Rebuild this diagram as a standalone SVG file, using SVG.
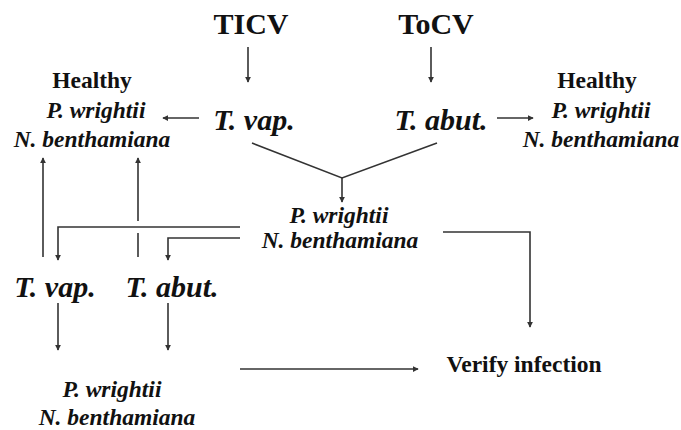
<svg xmlns="http://www.w3.org/2000/svg" width="681" height="430" viewBox="0 0 681 430">
  <style>
    text { font-family: "Liberation Serif", "Times New Roman", serif; fill: #111; text-anchor: middle; font-weight: bold; }
    .virus { font-size: 30px; }
    .head { font-size: 23.5px; }
    .host { font-size: 23.5px; font-style: italic; }
    .vec { font-size: 30px; font-style: italic; }
    .verify { font-size: 23.5px; }
    .conn line, .conn polyline { stroke: #333; stroke-width: 1.6; fill: none; }
  </style>
  <defs>
    <marker id="arrow" viewBox="0 0 8 8" refX="7" refY="4" markerWidth="6" markerHeight="6" markerUnits="userSpaceOnUse" orient="auto">
      <path d="M0,0 L8,4 L0,8 Z" fill="#333"/>
    </marker>
  </defs>
  <rect width="681" height="430" fill="#fff"/>

  <g id="ticv"><text class="virus" x="251" y="34">TICV</text></g>
  <g id="tocv"><text class="virus" x="436" y="34">ToCV</text></g>

  <g id="tvap-top"><text class="vec" x="254" y="130">T. vap.</text></g>
  <g id="tabut-top"><text class="vec" x="441" y="130">T. abut.</text></g>

  <g id="healthy-left">
    <text class="head" x="92" y="88">Healthy</text>
    <text class="host" x="96" y="118">P. wrightii</text>
    <text class="host" x="92" y="147">N. benthamiana</text>
  </g>
  <g id="healthy-right">
    <text class="head" x="597" y="88">Healthy</text>
    <text class="host" x="601" y="118">P. wrightii</text>
    <text class="host" x="601" y="147">N. benthamiana</text>
  </g>

  <g id="hosts-mid">
    <text class="host" x="339" y="223">P. wrightii</text>
    <text class="host" x="340" y="248">N. benthamiana</text>
  </g>

  <g id="tvap-bottom"><text class="vec" x="55" y="297">T. vap.</text></g>
  <g id="tabut-bottom"><text class="vec" x="172" y="297">T. abut.</text></g>

  <g id="hosts-bottom">
    <text class="host" x="112" y="397">P. wrightii</text>
    <text class="host" x="117" y="425">N. benthamiana</text>
  </g>

  <g id="verify"><text class="verify" x="524" y="372">Verify infection</text></g>

  <g class="conn" id="connectors">
    <line x1="248" y1="47" x2="248" y2="82" marker-end="url(#arrow)"/>
    <line x1="431" y1="47" x2="431" y2="82" marker-end="url(#arrow)"/>
    <line x1="199" y1="118" x2="163" y2="118" marker-end="url(#arrow)"/>
    <line x1="497" y1="118" x2="533" y2="118" marker-end="url(#arrow)"/>
    <polyline points="252,143 342,178 437,143"/>
    <line x1="342" y1="178" x2="342" y2="202" marker-end="url(#arrow)"/>
    <polyline points="240,227 58,227 58,260" marker-end="url(#arrow)"/>
    <polyline points="240,238 168,238 168,260" marker-end="url(#arrow)"/>
    <line x1="43" y1="257" x2="43" y2="158" marker-end="url(#arrow)"/>
    <line x1="138" y1="257" x2="138" y2="233"/>
    <line x1="138" y1="221" x2="138" y2="158" marker-end="url(#arrow)"/>
    <line x1="58" y1="303" x2="58" y2="350" marker-end="url(#arrow)"/>
    <line x1="168" y1="303" x2="168" y2="350" marker-end="url(#arrow)"/>
    <polyline points="443,232 530,232 530,327" marker-end="url(#arrow)"/>
    <line x1="240" y1="369" x2="418" y2="369" marker-end="url(#arrow)"/>
  </g>
</svg>
